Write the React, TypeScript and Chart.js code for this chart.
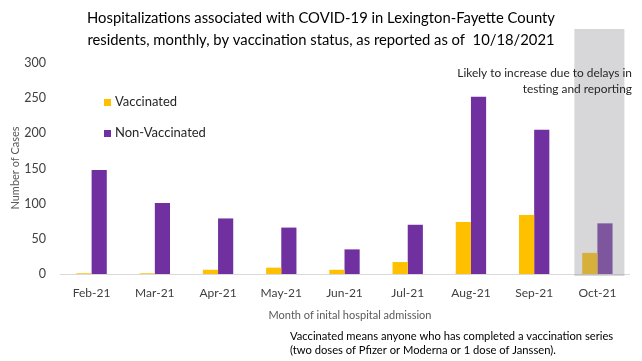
import React, { useEffect, useRef } from "react";
import { Chart, registerables } from "chart.js";

Chart.register(...registerables);

const categories = ["Feb-21", "Mar-21", "Apr-21", "May-21", "Jun-21", "Jul-21", "Aug-21", "Sep-21", "Oct-21"];
const vaccinated = [1, 1, 6, 9, 6, 17, 74, 84, 30];
const nonVaccinated = [148, 101, 79, 66, 35, 70, 252, 205, 72];
const seriesNames = ["Vaccinated", "Non-Vaccinated"];
const seriesColors = ["#FFC000", "#7030A0"];
const titleLines = [
  "Hospitalizations associated with COVID-19 in Lexington-Fayette County",
  "residents, monthly, by vaccination status, as reported as of  10/18/2021",
];
const noteLines = ["Likely to increase due to delays in", "testing and reporting"];
const footnoteLines = [
  "Vaccinated means anyone who has completed a vaccination series",
  "(two doses of Pfizer or Moderna or 1 dose of Janssen).",
];
const yAxisTitle = "Number of Cases";
const xAxisTitle = "Month of inital hospital admission";
const highlightIndex = 8;

const FONT = "Lato, 'Open Sans', sans-serif";

const decorPlugin = {
  id: "decor",
  afterDatasetsDraw(chart: any) {
    const ctx = chart.ctx;
    const xs = chart.scales.x;
    const cx = xs.getPixelForValue(highlightIndex);
    ctx.save();
    ctx.fillStyle = "rgba(150,150,156,0.38)";
    ctx.fillRect(cx - 23, 29, 50, chart.chartArea.bottom + 2 - 29);
    ctx.restore();
  },
  afterDraw(chart: any) {
    const ctx = chart.ctx;
    ctx.save();
    // title
    ctx.fillStyle = "#000000";
    ctx.font = `14.8px ${FONT}`;
    ctx.textAlign = "center";
    ctx.textBaseline = "middle";
    ctx.fillText(titleLines[0], 321, 18);
    ctx.fillText(titleLines[1], 321, 40);

    // legend
    ctx.font = `13px ${FONT}`;
    ctx.textAlign = "left";
    const legendY = [102, 133];
    for (let i = 0; i < 2; i++) {
      ctx.fillStyle = seriesColors[i];
      ctx.fillRect(104, legendY[i] - 3, 7, 7);
      ctx.fillStyle = "#262626";
      ctx.fillText(seriesNames[i], 115, legendY[i]);
    }

    // annotation
    ctx.font = `11.9px ${FONT}`;
    ctx.textAlign = "right";
    ctx.fillStyle = "#262626";
    ctx.fillText(noteLines[0], 632, 73);
    ctx.fillText(noteLines[1], 632, 89);

    // y axis title
    ctx.save();
    ctx.translate(15, 168);
    ctx.rotate(-Math.PI / 2);
    ctx.textAlign = "center";
    ctx.font = `11px ${FONT}`;
    ctx.fillStyle = "#595959";
    ctx.fillText(yAxisTitle, 0, 0);
    ctx.restore();

    // x axis title
    ctx.textAlign = "center";
    ctx.font = `11px ${FONT}`;
    ctx.fillStyle = "#595959";
    ctx.fillText(xAxisTitle, 350, 315);

    // footnote
    ctx.textAlign = "left";
    ctx.font = `11.2px ${FONT}`;
    ctx.fillStyle = "#000000";
    ctx.fillText(footnoteLines[0], 290, 336);
    ctx.fillText(footnoteLines[1], 290, 350);
    ctx.restore();
  },
};

export default function App() {
  const ref = useRef<HTMLCanvasElement>(null);
  useEffect(() => {
    document.body.style.margin = "0";
    const canvas = ref.current!;
    const chart = new Chart(canvas, {
      type: "bar",
      data: {
        labels: categories,
        datasets: [
          {
            label: seriesNames[0],
            data: vaccinated,
            backgroundColor: seriesColors[0],
            borderWidth: 0,
            barPercentage: 1,
            categoryPercentage: 0.48,
          },
          {
            label: seriesNames[1],
            data: nonVaccinated,
            backgroundColor: seriesColors[1],
            borderWidth: 0,
            barPercentage: 1,
            categoryPercentage: 0.48,
          },
        ],
      },
      options: {
        responsive: false,
        animation: false,
        devicePixelRatio: 1,
        layout: { padding: { top: 63, right: 13, left: 0, bottom: 0 } },
        plugins: {
          legend: { display: false },
          title: { display: false },
          tooltip: { enabled: false },
        },
        scales: {
          x: {
            grid: { display: false },
            border: { display: true, color: "#D9D9D9", width: 1 },
            ticks: { color: "#404040", font: { family: FONT, size: 12 }, padding: 4, maxRotation: 0 },
            afterFit: (s: any) => {
              s.height = 87;
            },
          },
          y: {
            min: 0,
            max: 300,
            grid: { display: false },
            border: { display: false },
            ticks: { stepSize: 50, color: "#404040", font: { family: FONT, size: 12.5 }, padding: 6 },
            afterFit: (s: any) => {
              s.width = 60;
            },
          },
        },
      },
      plugins: [decorPlugin],
    });
    return () => chart.destroy();
  }, []);
  return <canvas ref={ref} width={642} height={361} style={{ display: "block" }} />;
}
